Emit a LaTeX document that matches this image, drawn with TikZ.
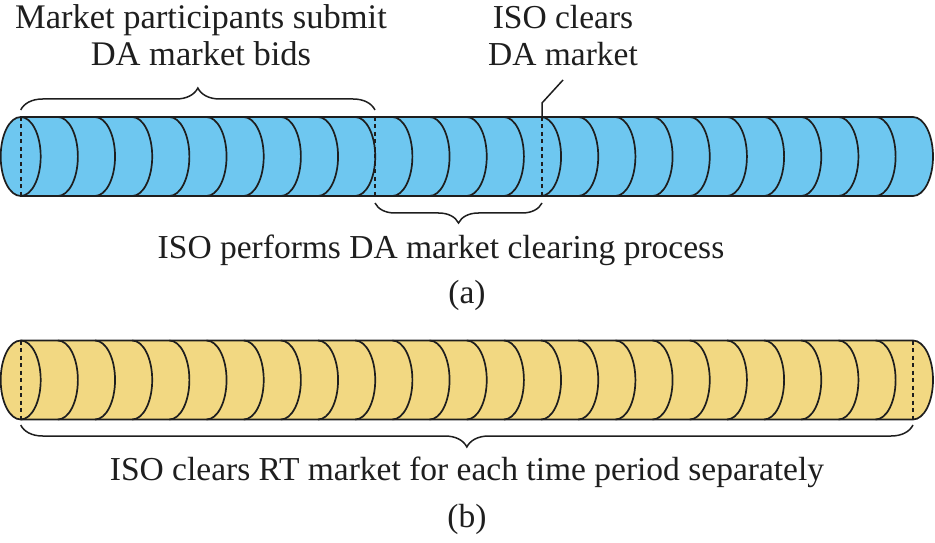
\documentclass[tikz,border=0pt]{standalone}
\usepackage{fontspec}
\setmainfont{Liberation Serif}
\usetikzlibrary{decorations.pathreplacing}
\definecolor{cylblue}{RGB}{110,199,240}
\definecolor{cylyellow}{RGB}{242,216,130}
\definecolor{ink}{RGB}{30,30,30}
\begin{document}
\begin{tikzpicture}[x=1pt,y=1pt,
  outline/.style={line width=1.7pt, draw=ink, line join=round},
  hidden/.style={line width=1.7pt, draw=ink, dash pattern=on 4pt off 3.5pt},
  bracestyle/.style={line width=1.5pt, draw=ink, decorate, decoration={brace, amplitude=#1}},
  lbl/.style={inner sep=0pt, anchor=base, font=\fontsize{33.5}{37}\selectfont, align=center, text=ink}]
\useasboundingbox (0,0) rectangle (935,542);
% ---------- cylinder (a) ----------
\fill[cylblue] (20.7,425) -- (913,425) arc[start angle=90,end angle=-90,x radius=20,y radius=39.5]
  -- (20.7,346) arc[start angle=270,end angle=90,x radius=20,y radius=39.5] -- cycle;
\foreach \k in {0,...,23}
  \draw[outline] ({20.7+37.17*\k},425) arc[start angle=90,end angle=-90,x radius=20,y radius=39.5];
\draw[outline] (20.7,425) -- (913,425) arc[start angle=90,end angle=-90,x radius=20,y radius=39.5]
  -- (20.7,346) arc[start angle=270,end angle=90,x radius=20,y radius=39.5] -- cycle;
\draw[hidden] (20.7,425) -- (20.7,346);
\draw[hidden] (375,425) -- (375,346);
\draw[hidden] (542,425) -- (542,346);
% ---------- cylinder (b) ----------
\fill[cylyellow] (20.7,201.5) -- (913,201.5) arc[start angle=90,end angle=-90,x radius=20,y radius=39.5]
  -- (20.7,122.5) arc[start angle=270,end angle=90,x radius=20,y radius=39.5] -- cycle;
\foreach \k in {0,...,23}
  \draw[outline] ({20.7+37.17*\k},201.5) arc[start angle=90,end angle=-90,x radius=20,y radius=39.5];
\draw[outline] (20.7,201.5) -- (913,201.5) arc[start angle=90,end angle=-90,x radius=20,y radius=39.5]
  -- (20.7,122.5) arc[start angle=270,end angle=90,x radius=20,y radius=39.5] -- cycle;
\draw[hidden] (20.7,201.5) -- (20.7,122.5);
\draw[hidden] (913,201.5) -- (913,122.5);
% ---------- coordinates ----------
\coordinate (b1l) at (20.7,432);
\coordinate (b1r) at (375,432);
\coordinate (b2l) at (375,339);
\coordinate (b2r) at (542,339);
\coordinate (b3l) at (20.7,117);
\coordinate (b3r) at (913,117);
\coordinate (ld0) at (542,425);
\coordinate (ld1) at (542,439);
\coordinate (ld2) at (563,462);
% ---------- braces ----------
\draw[bracestyle=22] (b1l) -- (b1r);
\draw[bracestyle=20] (b2r) -- (b2l);
\draw[bracestyle=22] (b3r) -- (b3l);
\draw[line width=1.5pt, draw=ink] (ld0) -- (ld1) -- (ld2);
% ---------- labels ----------
\node[lbl, font=\fontsize{34.5}{37}\selectfont] (tbids) at (201,476) {Market participants submit\\DA market bids};
\node[lbl] (tclear) at (563,476) {ISO clears\\DA market};
\node[lbl] (tproc) at (441,284) {ISO performs DA market clearing process};
\node[lbl] (ta) at (467,239) {(a)};
\node[lbl] (trt) at (467,62) {ISO clears RT market for each time period separately};
\node[lbl] (tb) at (467,15) {(b)};
\end{tikzpicture}
\end{document}
